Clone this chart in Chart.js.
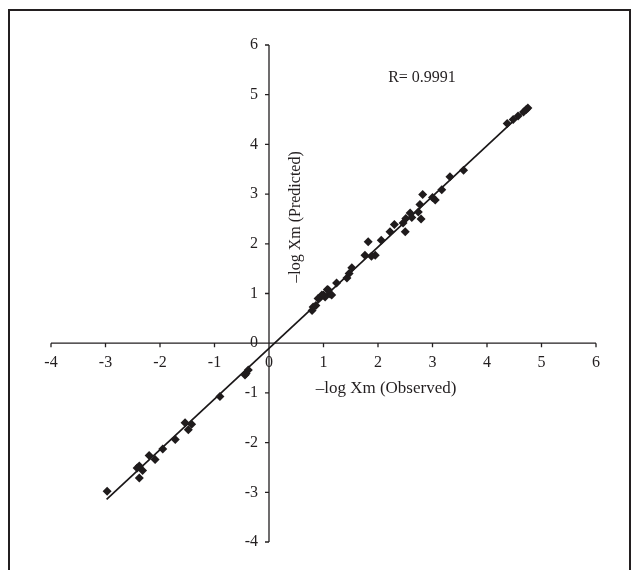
<!DOCTYPE html>
<html lang="en">
<head>
  <meta charset="UTF-8" />
  <title>-log Xm predicted vs observed</title>
  <script src="https://cdn.jsdelivr.net/npm/chart.js"></script>
  <style>
    html, body {
      margin: 0;
      padding: 0;
      background: #fff;
      overflow: hidden;
    }

    .frame {
      position: absolute;
      left: 8px;
      top: 9px;
      width: 619px;
      height: 600px;
      border-left: 2px solid #231f20;
      border-top: 2px solid #231f20;
      border-right: 2px solid #231f20;
    }

    .chart-box {
      position: absolute;
      left: 0;
      top: 0;
      width: 634px;
      height: 570px;
    }
  </style>
</head>
<body>
  <div class="frame"></div>
  <div class="chart-box">
    <canvas id="fitChart" width="634" height="570"></canvas>
  </div>

  <script>
    // valeurs
    const obsX = [4.75, 4.72, 4.67, 4.57, 4.48, 4.37, 3.57, 3.32, 3.17, 3.05,
                  3.00, 2.82, 2.77, 2.74, 2.79, 2.59, 2.62, 2.51, 2.46, 2.50,
                  2.30, 2.22, 2.06, 1.82, 1.95, 1.88, 1.76, 1.52, 1.47, 1.43,
                  1.24, 1.07, 1.12, 1.00, 1.09, 1.15, 1.03, 0.97, 0.90, 0.86,
                  0.81, 0.79, -0.38, -0.42, -0.44, -0.90, -1.42, -1.54, -1.48, -1.72,
                  -1.95, -2.09, -2.20, -2.32, -2.38, -2.42, -2.38, -2.97];
    const predY = [4.73, 4.70, 4.65, 4.57, 4.50, 4.42, 3.48, 3.35, 3.09, 2.88,
                   2.93, 2.99, 2.79, 2.64, 2.50, 2.62, 2.53, 2.51, 2.42, 2.24,
                   2.39, 2.24, 2.07, 2.04, 1.77, 1.75, 1.77, 1.52, 1.40, 1.31,
                   1.21, 1.08, 0.99, 0.97, 1.07, 0.97, 0.93, 0.97, 0.90, 0.76,
                   0.73, 0.66, -0.54, -0.61, -0.64, -1.07, -1.63, -1.60, -1.74, -1.94,
                   -2.13, -2.34, -2.26, -2.56, -2.47, -2.51, -2.71, -2.98];
    // droite de régression (extrémités)
    const fitX = [-2.98, 4.76];
    const fitY = [-3.14, 4.75];
    const xTicks = [-4, -3, -2, -1, 0, 1, 2, 3, 4, 5, 6];
    const yTicks = [-4, -3, -2, -1, 0, 1, 2, 3, 4, 5, 6];
    const xTitle = '\u2013log Xm (Observed)';
    const yTitle = '\u2013log Xm (Predicted)';
    const rLabel = 'R= 0.9991';

    const ink = '#231f20';
    const serif = '16px "Liberation Serif", "Times New Roman", serif';
    const serifTitle = '17px "Liberation Serif", "Times New Roman", serif';

    // axes croisés en (0,0), dessinés à la main avec les échelles de Chart.js
    const crossAxes = {
      id: 'crossAxes',
      beforeDatasetsDraw(chart) {
        const ctx = chart.ctx;
        const sx = chart.scales.x;
        const sy = chart.scales.y;
        const x0 = sx.getPixelForValue(0);
        const y0 = sy.getPixelForValue(0);

        ctx.save();
        ctx.strokeStyle = ink;
        ctx.fillStyle = ink;
        ctx.lineWidth = 1.3;

        // axe horizontal
        ctx.beginPath();
        ctx.moveTo(sx.getPixelForValue(xTicks[0]), y0);
        ctx.lineTo(sx.getPixelForValue(xTicks[xTicks.length - 1]), y0);
        xTicks.forEach(v => {
          const px = sx.getPixelForValue(v);
          ctx.moveTo(px, y0);
          ctx.lineTo(px, y0 + 4);
        });
        // axe vertical
        ctx.moveTo(x0, sy.getPixelForValue(yTicks[0]));
        ctx.lineTo(x0, sy.getPixelForValue(yTicks[yTicks.length - 1]));
        yTicks.forEach(v => {
          const py = sy.getPixelForValue(v);
          ctx.moveTo(x0, py);
          ctx.lineTo(x0 - 4, py);
        });
        ctx.stroke();

        ctx.font = serif;
        ctx.textBaseline = 'middle';
        ctx.textAlign = 'center';
        xTicks.forEach(v => {
          ctx.fillText(String(v), sx.getPixelForValue(v), y0 + 20);
        });
        ctx.textAlign = 'right';
        yTicks.forEach(v => {
          ctx.fillText(String(v), x0 - 11, sy.getPixelForValue(v));
        });

        // titres
        ctx.textAlign = 'center';
        ctx.fillText(rLabel, 422, 78);
        ctx.font = serifTitle;
        ctx.fillText(xTitle, 386, 389);
        ctx.font = serif;
        ctx.translate(296, 217);
        ctx.rotate(-Math.PI / 2);
        ctx.fillText(yTitle, 0, 0);
        ctx.restore();
      }
    };

    const ctx = document.getElementById('fitChart').getContext('2d');
    new Chart(ctx, {
      type: 'scatter',
      data: {
        datasets: [{
          label: 'Points',
          data: obsX.map((x, i) => ({ x: x, y: predY[i] })),
          pointStyle: 'rectRot',
          pointRadius: 4.5,
          backgroundColor: '#1f1b1c',
          borderWidth: 0
        }, {
          type: 'line',
          label: 'Régression',
          data: fitX.map((x, i) => ({ x: x, y: fitY[i] })),
          borderColor: '#1a1718',
          borderWidth: 1.7,
          pointRadius: 0,
          fill: false
        }]
      },
      options: {
        responsive: false,
        animation: false,
        devicePixelRatio: 1,
        layout: {
          padding: { left: 51, right: 38, top: 45, bottom: 28 }
        },
        plugins: {
          legend: { display: false },
          tooltip: { enabled: false }
        },
        scales: {
          x: { type: 'linear', min: -4, max: 6, display: false },
          y: { type: 'linear', min: -4, max: 6, display: false }
        }
      },
      plugins: [crossAxes]
    });
  </script>
</body>
</html>
